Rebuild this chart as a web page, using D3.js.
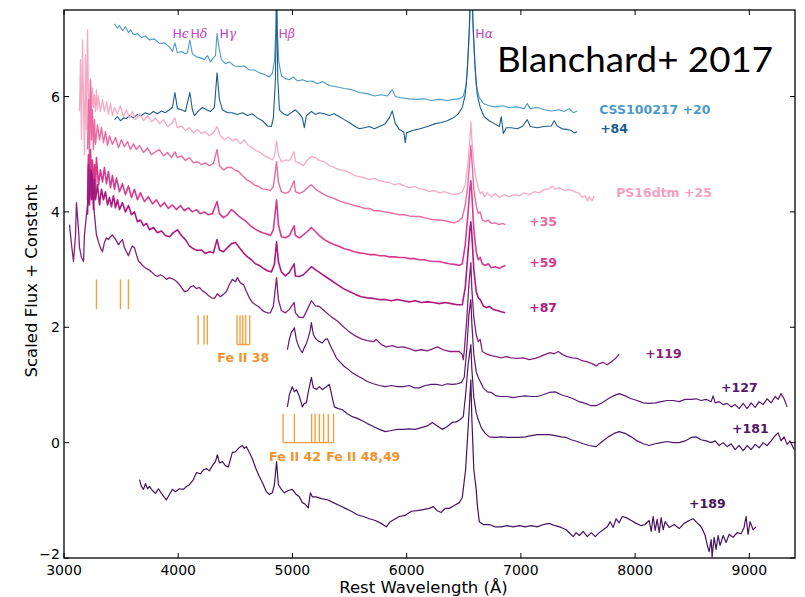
<!DOCTYPE html>
<html>
<head>
<meta charset="utf-8">
<script src="https://cdn.jsdelivr.net/npm/d3@7"></script>
<style>
  html, body { margin: 0; padding: 0; background: #fff; }
  svg { display: block; }
</style>
</head>
<body>
<svg id="chart" width="805" height="597"></svg>
<script>
// ---- spectra: [rest wavelength (Å), scaled flux + constant] ----
const css100217_p20 = [[3442,7.26],[3468,7.19],[3486,7.23],[3512,7.14],[3538,7.21],[3564,7.11],[3582,7.16],[3608,7.07],[3643,7.09],[3678,7.02],[3713,7.05],[3748,6.98],[3792,7.00],[3836,6.92],[3879,6.93],[3923,6.86],[3949,6.78],[3971,6.93],[3993,6.76],[4028,6.78],[4063,6.74],[4081,6.76],[4102,6.98],[4124,6.74],[4159,6.69],[4194,6.67],[4229,6.64],[4256,6.71],[4282,6.60],[4308,6.67],[4326,6.71],[4340,7.09],[4356,6.86],[4378,6.64],[4413,6.57],[4448,6.60],[4492,6.53],[4536,6.52],[4579,6.53],[4623,6.46],[4667,6.46],[4711,6.41],[4754,6.38],[4798,6.34],[4824,6.40],[4842,6.60],[4855,7.16],[4861,7.9],[4868,7.16],[4881,6.60],[4903,6.36],[4938,6.31],[4973,6.29],[5008,6.34],[5043,6.27],[5087,6.29],[5131,6.26],[5174,6.27],[5218,6.22],[5262,6.26],[5323,6.19],[5384,6.17],[5454,6.14],[5516,6.12],[5586,6.07],[5656,6.05],[5717,6.01],[5778,6.03],[5831,6.01],[5874,6.12],[5901,6.00],[5953,5.98],[6023,5.96],[6093,5.95],[6154,5.96],[6216,5.93],[6286,5.95],[6356,5.93],[6417,5.95],[6461,5.96],[6496,6.01],[6522,6.20],[6539,6.73],[6553,7.33],[6566,8.5],[6579,7.33],[6592,6.73],[6609,6.20],[6636,5.98],[6671,5.88],[6723,5.84],[6776,5.82],[6837,5.84],[6898,5.81],[6968,5.82],[7029,5.79],[7056,5.88],[7082,5.79],[7143,5.81],[7204,5.77],[7266,5.75],[7336,5.77],[7379,5.74],[7423,5.79],[7458,5.72],[7493,5.75]];

const css100217_p84 = [[3442,5.60],[3468,5.65],[3494,5.58],[3521,5.63],[3547,5.62],[3573,5.67],[3608,5.63],[3643,5.69],[3678,5.67],[3713,5.72],[3748,5.69],[3783,5.74],[3818,5.70],[3853,5.75],[3888,5.72],[3923,5.77],[3949,5.81],[3971,6.07],[3993,5.79],[4028,5.77],[4063,5.74],[4102,6.07],[4124,5.77],[4142,5.67],[4177,5.75],[4212,5.81],[4247,5.77],[4282,5.74],[4317,5.81],[4340,6.41],[4361,5.95],[4387,5.77],[4431,5.72],[4474,5.72],[4518,5.69],[4562,5.72],[4606,5.67],[4649,5.70],[4693,5.63],[4737,5.58],[4781,5.49],[4816,5.48],[4833,5.63],[4851,6.29],[4861,7.7],[4872,6.29],[4886,5.77],[4921,5.70],[4956,5.67],[4991,5.72],[5026,5.77],[5061,5.70],[5087,5.63],[5104,5.46],[5122,5.67],[5166,5.74],[5201,5.69],[5236,5.72],[5279,5.70],[5323,5.67],[5367,5.70],[5411,5.65],[5454,5.60],[5498,5.55],[5542,5.49],[5586,5.44],[5629,5.46],[5673,5.48],[5717,5.44],[5761,5.48],[5813,5.53],[5848,5.63],[5874,5.75],[5901,5.53],[5936,5.43],[5975,5.38],[5988,5.20],[5999,5.37],[6049,5.41],[6093,5.43],[6146,5.46],[6198,5.49],[6251,5.53],[6303,5.55],[6356,5.58],[6408,5.63],[6452,5.70],[6487,5.81],[6513,6.03],[6531,6.46],[6548,7.16],[6566,8.3],[6583,7.16],[6601,6.46],[6618,6.03],[6644,5.81],[6679,5.65],[6723,5.58],[6767,5.53],[6811,5.48],[6828,5.65],[6846,5.36],[6872,5.46],[6916,5.46],[6968,5.44],[7012,5.48],[7056,5.60],[7082,5.48],[7143,5.46],[7204,5.48],[7266,5.49],[7292,5.58],[7318,5.49],[7362,5.44],[7406,5.43],[7441,5.41],[7467,5.37],[7493,5.39]];

const ps16dtm_p25 = [[3136,5.74],[3144,6.64],[3153,5.25],[3162,6.98],[3171,5.95],[3179,4.99],[3188,6.73],[3197,5.43],[3206,7.16],[3214,6.03],[3223,5.60],[3232,6.20],[3241,5.69],[3249,6.15],[3258,5.81],[3267,6.03],[3276,5.74],[3284,6.12],[3293,5.77],[3302,6.01],[3319,5.74],[3337,5.95],[3354,5.74],[3372,5.91],[3389,5.69],[3407,5.88],[3424,5.67],[3442,5.81],[3468,5.70],[3494,5.84],[3521,5.65],[3547,5.77],[3573,5.63],[3599,5.74],[3626,5.60],[3661,5.70],[3696,5.58],[3731,5.67],[3766,5.56],[3801,5.63],[3836,5.53],[3871,5.60],[3906,5.48],[3941,5.53],[3971,5.63],[3993,5.46],[4028,5.49],[4063,5.41],[4098,5.46],[4133,5.37],[4168,5.43],[4203,5.36],[4238,5.39],[4273,5.32],[4308,5.37],[4340,5.48],[4369,5.32],[4404,5.25],[4439,5.30],[4474,5.23],[4509,5.27],[4544,5.18],[4579,5.25],[4614,5.15],[4649,5.11],[4684,5.06],[4719,5.03],[4754,4.97],[4789,4.94],[4824,4.90],[4842,4.96],[4861,5.23],[4877,4.99],[4903,4.87],[4938,4.90],[4973,4.89],[5015,5.04],[5026,4.87],[5061,4.85],[5096,4.80],[5131,4.90],[5166,4.96],[5201,4.94],[5236,4.89],[5279,4.87],[5323,4.80],[5367,4.77],[5411,4.73],[5454,4.72],[5498,4.68],[5542,4.63],[5586,4.61],[5629,4.59],[5673,4.56],[5717,4.58],[5761,4.54],[5804,4.52],[5848,4.51],[5892,4.47],[5936,4.49],[5979,4.45],[6023,4.42],[6067,4.44],[6111,4.40],[6154,4.39],[6198,4.35],[6242,4.37],[6286,4.33],[6329,4.35],[6373,4.32],[6417,4.30],[6461,4.32],[6487,4.35],[6513,4.47],[6536,4.82],[6553,5.25],[6562,5.56],[6571,5.25],[6588,4.82],[6609,4.56],[6627,4.42],[6644,4.32],[6662,4.35],[6679,4.26],[6706,4.33],[6741,4.26],[6776,4.32],[6811,4.25],[6854,4.30],[6898,4.26],[6942,4.30],[6986,4.28],[7029,4.33],[7073,4.30],[7117,4.35],[7161,4.33],[7204,4.39],[7248,4.40],[7274,4.45],[7301,4.39],[7336,4.42],[7379,4.37],[7423,4.39],[7467,4.35],[7511,4.32],[7537,4.25],[7563,4.28],[7581,4.19],[7598,4.26],[7624,4.19],[7642,4.28]];

const ps16dtm_p35 = [[3206,5.08],[3214,5.95],[3223,4.90],[3232,6.29],[3241,5.25],[3249,5.77],[3258,5.08],[3267,5.60],[3276,5.17],[3293,5.51],[3311,5.25],[3328,5.46],[3346,5.20],[3363,5.39],[3381,5.15],[3398,5.32],[3424,5.17],[3451,5.29],[3477,5.11],[3503,5.25],[3529,5.13],[3556,5.22],[3582,5.08],[3608,5.18],[3634,5.08],[3661,5.15],[3696,5.03],[3731,5.11],[3766,4.99],[3801,5.04],[3836,5.08],[3871,4.97],[3906,5.03],[3941,4.94],[3971,5.04],[3993,4.94],[4028,4.97],[4063,4.89],[4098,4.94],[4133,4.85],[4168,4.87],[4203,4.82],[4238,4.85],[4273,4.80],[4308,4.84],[4340,5.08],[4361,4.80],[4396,4.73],[4431,4.77],[4466,4.77],[4492,4.73],[4527,4.70],[4562,4.63],[4597,4.56],[4632,4.52],[4667,4.47],[4702,4.44],[4737,4.40],[4772,4.39],[4807,4.37],[4833,4.44],[4861,4.87],[4877,4.52],[4903,4.35],[4938,4.32],[4973,4.35],[5015,4.54],[5026,4.35],[5061,4.32],[5096,4.35],[5131,4.42],[5166,4.47],[5201,4.40],[5236,4.35],[5279,4.30],[5323,4.26],[5367,4.23],[5411,4.19],[5454,4.16],[5498,4.14],[5542,4.11],[5586,4.09],[5629,4.06],[5673,4.06],[5717,4.02],[5761,4.02],[5804,4.00],[5848,3.99],[5892,3.97],[5936,3.95],[5979,3.95],[6023,3.93],[6067,3.92],[6111,3.92],[6154,3.90],[6198,3.88],[6242,3.86],[6286,3.86],[6329,3.85],[6373,3.83],[6417,3.81],[6461,3.85],[6487,3.90],[6513,4.12],[6536,4.47],[6553,4.90],[6562,5.15],[6571,4.90],[6588,4.39],[6609,4.11],[6627,3.97],[6644,4.00],[6662,3.86],[6688,3.83],[6714,3.86],[6741,3.80],[6776,3.81],[6811,3.78],[6837,3.80],[6863,3.78]];

const ps16dtm_p59 = [[3206,4.21],[3214,4.99],[3223,4.39],[3232,5.08],[3241,4.47],[3249,4.90],[3258,4.30],[3267,4.82],[3276,4.39],[3284,4.94],[3302,4.47],[3319,4.73],[3337,4.52],[3354,4.77],[3372,4.49],[3389,4.70],[3407,4.42],[3424,4.63],[3442,4.39],[3459,4.59],[3486,4.35],[3512,4.49],[3538,4.30],[3564,4.45],[3591,4.25],[3617,4.39],[3643,4.21],[3669,4.33],[3704,4.18],[3739,4.26],[3774,4.14],[3809,4.21],[3844,4.09],[3879,4.16],[3914,4.06],[3949,4.12],[3984,4.04],[4019,4.11],[4054,4.02],[4089,4.07],[4124,4.00],[4159,4.04],[4194,3.97],[4229,4.00],[4264,3.95],[4299,3.97],[4340,4.18],[4361,3.97],[4396,3.90],[4431,3.95],[4466,4.04],[4492,4.00],[4527,3.93],[4562,3.88],[4597,3.83],[4632,3.76],[4667,3.71],[4702,3.67],[4737,3.64],[4772,3.62],[4807,3.59],[4833,3.69],[4861,4.21],[4877,3.78],[4903,3.57],[4938,3.55],[4973,3.59],[5015,3.76],[5026,3.59],[5061,3.55],[5096,3.60],[5131,3.66],[5166,3.73],[5201,3.66],[5236,3.59],[5279,3.52],[5323,3.47],[5367,3.43],[5411,3.40],[5454,3.36],[5498,3.34],[5542,3.31],[5586,3.29],[5629,3.28],[5673,3.26],[5717,3.26],[5761,3.24],[5804,3.24],[5848,3.22],[5892,3.22],[5936,3.21],[5979,3.21],[6023,3.19],[6067,3.19],[6111,3.17],[6154,3.17],[6198,3.15],[6242,3.14],[6286,3.14],[6329,3.12],[6373,3.10],[6417,3.09],[6461,3.07],[6487,3.10],[6513,3.43],[6536,3.95],[6553,4.39],[6562,4.54],[6571,4.30],[6588,3.69],[6609,3.31],[6627,3.17],[6644,3.21],[6662,3.10],[6688,3.07],[6714,3.10],[6741,3.03],[6776,3.05],[6811,3.02],[6837,3.05],[6863,3.07]];

const ps16dtm_p87 = [[3206,3.95],[3214,4.82],[3223,4.12],[3232,4.73],[3241,4.21],[3249,4.65],[3258,4.04],[3267,4.56],[3276,4.21],[3293,4.47],[3311,4.12],[3328,4.39],[3346,4.21],[3363,4.35],[3381,4.12],[3398,4.25],[3416,4.09],[3433,4.28],[3451,4.07],[3468,4.21],[3486,4.04],[3512,4.16],[3538,4.00],[3564,4.11],[3591,3.95],[3617,4.00],[3643,3.83],[3669,3.86],[3696,3.76],[3722,3.80],[3748,3.69],[3783,3.73],[3818,3.64],[3853,3.67],[3888,3.59],[3923,3.57],[3958,3.64],[3993,3.69],[4028,3.59],[4063,3.52],[4098,3.41],[4133,3.36],[4168,3.33],[4203,3.34],[4238,3.28],[4273,3.31],[4308,3.29],[4340,3.52],[4361,3.34],[4396,3.31],[4431,3.38],[4466,3.45],[4501,3.47],[4536,3.38],[4571,3.29],[4606,3.22],[4641,3.17],[4676,3.10],[4711,3.07],[4746,3.02],[4781,2.98],[4816,2.96],[4842,3.09],[4861,3.48],[4877,3.14],[4903,2.96],[4938,2.89],[4973,2.95],[5015,3.10],[5026,2.89],[5061,2.88],[5096,2.91],[5131,2.98],[5166,3.05],[5201,3.00],[5236,2.95],[5288,2.88],[5341,2.81],[5393,2.74],[5446,2.67],[5498,2.62],[5551,2.57],[5603,2.53],[5656,2.51],[5708,2.50],[5761,2.48],[5813,2.48],[5866,2.46],[5918,2.48],[5971,2.46],[6023,2.44],[6076,2.46],[6128,2.43],[6181,2.44],[6233,2.43],[6286,2.41],[6338,2.43],[6391,2.41],[6443,2.39],[6487,2.39],[6513,2.69],[6536,3.26],[6553,3.69],[6562,3.83],[6571,3.60],[6588,3.00],[6609,2.62],[6627,2.51],[6644,2.48],[6671,2.37],[6697,2.34],[6723,2.36],[6758,2.31],[6793,2.29],[6828,2.27],[6863,2.25]];

const ps16dtm_p119 = [[3048,3.78],[3066,3.43],[3083,3.14],[3101,3.60],[3109,4.16],[3127,3.69],[3136,3.38],[3153,3.21],[3171,3.14],[3179,3.60],[3197,3.95],[3214,4.25],[3232,4.47],[3241,4.70],[3249,4.39],[3267,3.95],[3284,3.60],[3302,3.48],[3319,3.38],[3337,3.31],[3354,3.47],[3372,3.55],[3389,3.52],[3407,3.57],[3424,3.60],[3442,3.55],[3459,3.50],[3477,3.43],[3494,3.48],[3512,3.52],[3529,3.38],[3547,3.31],[3564,3.24],[3582,3.34],[3599,3.41],[3617,3.38],[3634,3.26],[3652,3.15],[3669,3.12],[3687,3.07],[3713,3.03],[3739,3.00],[3766,2.96],[3792,2.91],[3818,2.88],[3844,2.91],[3871,2.88],[3897,2.83],[3923,2.86],[3949,2.84],[3976,2.81],[4002,2.76],[4028,2.69],[4054,2.62],[4081,2.63],[4107,2.70],[4133,2.72],[4159,2.67],[4186,2.69],[4212,2.63],[4238,2.60],[4264,2.55],[4291,2.51],[4317,2.50],[4343,2.58],[4369,2.53],[4396,2.57],[4422,2.62],[4448,2.74],[4474,2.83],[4501,2.79],[4518,2.86],[4544,2.77],[4571,2.74],[4597,2.62],[4623,2.51],[4649,2.43],[4676,2.39],[4702,2.36],[4728,2.31],[4754,2.27],[4781,2.25],[4807,2.25],[4833,2.37],[4861,2.86],[4877,2.48],[4903,2.29],[4938,2.25],[4973,2.31],[5015,2.43],[5026,2.25],[5061,2.17],[5096,2.17],[5131,2.31],[5166,2.46],[5201,2.37],[5236,2.36],[5288,2.27],[5341,2.18],[5393,2.11],[5446,2.01],[5498,1.92],[5551,1.85],[5603,1.80],[5656,1.77],[5708,1.75],[5734,1.79],[5778,1.70],[5822,1.66],[5874,1.68],[5918,1.65],[5971,1.66],[6023,1.63],[6076,1.59],[6128,1.61],[6181,1.59],[6233,1.63],[6268,1.66],[6321,1.61],[6373,1.58],[6426,1.58],[6461,1.58],[6487,1.53],[6496,1.44],[6504,1.58],[6526,2.13],[6545,2.74],[6562,3.12],[6571,2.65],[6588,2.17],[6609,1.87],[6627,1.75],[6644,1.79],[6662,1.58],[6697,1.54],[6741,1.51],[6784,1.49],[6828,1.47],[6872,1.49],[6916,1.47],[6968,1.46],[7021,1.47],[7073,1.44],[7126,1.46],[7169,1.49],[7213,1.53],[7257,1.56],[7292,1.54],[7327,1.58],[7362,1.53],[7406,1.49],[7449,1.47],[7493,1.46],[7537,1.42],[7581,1.40],[7624,1.37],[7659,1.33],[7686,1.37],[7721,1.39],[7756,1.35],[7791,1.40],[7817,1.44],[7843,1.49],[7861,1.53]];

const ps16dtm_p127 = [[4956,1.61],[4973,1.79],[4991,1.91],[5008,1.96],[5017,1.99],[5034,1.79],[5052,1.68],[5069,1.61],[5087,1.56],[5104,1.65],[5122,1.72],[5139,1.82],[5157,1.96],[5166,2.08],[5183,1.87],[5209,1.79],[5236,1.75],[5262,1.73],[5288,1.79],[5306,1.80],[5332,1.68],[5358,1.58],[5384,1.47],[5419,1.39],[5454,1.32],[5489,1.27],[5524,1.21],[5568,1.16],[5612,1.11],[5656,1.06],[5708,1.02],[5761,0.99],[5813,0.97],[5866,0.99],[5918,0.97],[5971,0.97],[6023,0.99],[6067,0.95],[6111,0.95],[6163,0.99],[6216,1.01],[6259,1.01],[6312,0.99],[6356,1.02],[6399,1.01],[6443,1.02],[6478,1.04],[6504,1.13],[6526,1.61],[6545,2.22],[6562,2.48],[6571,2.05],[6588,1.53],[6609,1.23],[6627,1.13],[6644,1.06],[6671,0.95],[6706,0.88],[6741,0.87],[6784,0.81],[6828,0.80],[6881,0.80],[6933,0.78],[6986,0.80],[7038,0.81],[7091,0.80],[7143,0.80],[7196,0.83],[7248,0.87],[7301,0.88],[7353,0.83],[7406,0.80],[7458,0.76],[7511,0.71],[7563,0.68],[7616,0.64],[7659,0.64],[7712,0.69],[7764,0.76],[7808,0.81],[7861,0.85],[7913,0.81],[7966,0.76],[8018,0.73],[8071,0.69],[8123,0.68],[8176,0.69],[8228,0.71],[8281,0.73],[8333,0.73],[8386,0.71],[8438,0.75],[8491,0.75],[8534,0.76],[8578,0.73],[8622,0.75],[8666,0.71],[8683,0.81],[8701,0.69],[8736,0.71],[8771,0.66],[8806,0.68],[8841,0.62],[8876,0.66],[8911,0.59],[8946,0.68],[8981,0.59],[9016,0.69],[9051,0.61],[9086,0.71],[9121,0.66],[9156,0.76],[9191,0.69],[9226,0.80],[9252,0.75],[9278,0.85],[9304,0.76],[9331,0.62]];

const ps16dtm_p181 = [[4956,0.62],[4973,0.83],[4999,0.97],[5017,0.88],[5034,0.92],[5061,0.80],[5087,0.62],[5104,0.68],[5122,0.69],[5139,0.88],[5166,1.13],[5183,0.95],[5209,0.92],[5236,0.97],[5262,0.92],[5297,0.97],[5323,1.01],[5349,0.78],[5367,0.62],[5402,0.59],[5437,0.57],[5481,0.50],[5524,0.45],[5568,0.42],[5612,0.38],[5656,0.33],[5708,0.28],[5761,0.23],[5813,0.19],[5866,0.21],[5918,0.23],[5971,0.23],[6023,0.24],[6076,0.23],[6128,0.26],[6181,0.29],[6224,0.35],[6268,0.29],[6312,0.23],[6356,0.28],[6399,0.35],[6434,0.36],[6469,0.40],[6496,0.45],[6516,0.83],[6538,1.35],[6562,1.70],[6571,1.27],[6588,0.78],[6609,0.52],[6627,0.40],[6653,0.26],[6688,0.16],[6723,0.10],[6776,0.09],[6828,0.10],[6881,0.09],[6933,0.09],[6986,0.09],[7038,0.10],[7091,0.12],[7143,0.14],[7196,0.14],[7248,0.14],[7301,0.12],[7353,0.10],[7397,0.09],[7441,0.05],[7493,0.02],[7546,-0.02],[7598,-0.05],[7659,-0.07],[7712,0.02],[7764,0.10],[7817,0.16],[7861,0.19],[7913,0.16],[7966,0.10],[8018,0.03],[8071,-0.02],[8123,-0.05],[8176,-0.02],[8228,0.00],[8281,0.02],[8333,0.00],[8386,0.00],[8438,0.03],[8491,0.09],[8534,0.10],[8578,0.05],[8622,0.03],[8666,0.00],[8701,0.03],[8736,-0.05],[8771,0.00],[8806,-0.07],[8841,-0.02],[8876,-0.12],[8911,-0.05],[8946,-0.14],[8981,-0.05],[9016,-0.12],[9051,-0.03],[9086,-0.09],[9121,0.00],[9156,-0.05],[9191,0.03],[9226,0.12],[9252,0.17],[9278,0.03],[9304,0.10],[9331,-0.03],[9357,0.03],[9392,-0.12]];

const ps16dtm_p189 = [[3661,-0.64],[3678,-0.76],[3696,-0.81],[3713,-0.71],[3731,-0.80],[3748,-0.76],[3774,-0.83],[3801,-0.88],[3827,-0.80],[3853,-0.88],[3879,-0.95],[3897,-0.99],[3923,-0.90],[3949,-0.81],[3976,-0.85],[4011,-0.80],[4046,-0.81],[4072,-0.76],[4098,-0.73],[4133,-0.64],[4159,-0.52],[4194,-0.54],[4221,-0.47],[4247,-0.45],[4273,-0.49],[4299,-0.40],[4326,-0.33],[4343,-0.21],[4361,-0.35],[4387,-0.33],[4413,-0.40],[4439,-0.42],[4457,-0.29],[4474,-0.17],[4501,-0.16],[4527,-0.10],[4544,-0.07],[4562,-0.05],[4579,-0.10],[4597,-0.07],[4623,-0.17],[4649,-0.28],[4684,-0.47],[4711,-0.59],[4737,-0.69],[4772,-0.85],[4798,-0.90],[4824,-0.87],[4842,-0.73],[4861,-0.33],[4877,-0.73],[4903,-0.81],[4929,-0.87],[4964,-0.83],[4999,-0.81],[5034,-0.90],[5061,-0.94],[5087,-1.04],[5113,-1.07],[5139,-1.13],[5157,-0.87],[5174,-0.94],[5209,-0.94],[5253,-0.97],[5306,-0.99],[5358,-1.04],[5411,-1.09],[5463,-1.14],[5516,-1.19],[5568,-1.25],[5621,-1.28],[5673,-1.32],[5726,-1.35],[5778,-1.40],[5822,-1.46],[5857,-1.37],[5901,-1.32],[5936,-1.28],[5988,-1.26],[6041,-1.19],[6093,-1.18],[6146,-1.16],[6198,-1.14],[6233,-1.11],[6268,-1.18],[6303,-1.21],[6338,-1.14],[6373,-1.14],[6417,-1.09],[6461,-1.04],[6487,-0.95],[6516,-0.47],[6540,0.31],[6562,1.09],[6571,0.40],[6588,-0.47],[6609,-0.81],[6618,-1.07],[6636,-1.37],[6671,-1.42],[6723,-1.42],[6776,-1.46],[6828,-1.46],[6881,-1.44],[6933,-1.46],[6986,-1.44],[7038,-1.46],[7091,-1.44],[7143,-1.46],[7196,-1.42],[7248,-1.40],[7301,-1.44],[7353,-1.47],[7397,-1.51],[7432,-1.58],[7458,-1.63],[7484,-1.56],[7511,-1.61],[7546,-1.54],[7581,-1.63],[7616,-1.56],[7651,-1.63],[7686,-1.56],[7721,-1.51],[7756,-1.46],[7782,-1.37],[7808,-1.47],[7834,-1.32],[7861,-1.39],[7887,-1.28],[7922,-1.30],[7966,-1.35],[8009,-1.40],[8053,-1.44],[8088,-1.42],[8123,-1.35],[8141,-1.54],[8158,-1.28],[8176,-1.52],[8193,-1.33],[8211,-1.56],[8228,-1.30],[8246,-1.51],[8263,-1.37],[8298,-1.47],[8342,-1.42],[8386,-1.49],[8429,-1.40],[8473,-1.35],[8508,-1.32],[8543,-1.39],[8569,-1.44],[8587,-1.49],[8613,-1.61],[8631,-1.77],[8648,-1.89],[8666,-1.68],[8674,-1.98],[8692,-1.64],[8709,-1.85],[8727,-1.61],[8744,-1.78],[8771,-1.61],[8797,-1.73],[8823,-1.59],[8858,-1.64],[8893,-1.56],[8928,-1.58],[8954,-1.47],[8972,-1.28],[8989,-1.59],[9007,-1.37],[9033,-1.51],[9059,-1.46]];

// series labels and the spot (wavelength, flux) where each label sits
const seriesNames  = ["CSS100217 +20", "+84", "PS16dtm +25", "+35", "+59", "+87", "+119", "+127", "+181", "+189"];
const seriesColors = ["#4b9ac8", "#1c5d8d", "#f5a9c3", "#ea6aa1", "#d8398e", "#b0187f", "#85207e", "#5a1771", "#4e1569", "#47125f"];
const labelColors  = ["#4b9ac8", "#1c5d8d", "#f4a0bf", "#ea6aa1", "#d8398e", "#b0187f", "#85207e", "#5a1771", "#4e1569", "#47125f"];
const lineWidths   = [1.1, 1.1, 1.3, 1.4, 1.6, 1.6, 1.3, 1.2, 1.2, 1.2];
const labelWave    = [7686, 7694, 7834, 7073, 7073, 7073, 8088, 8753, 8849, 8473];
const labelFlux    = [5.69, 5.37, 4.25, 3.76, 3.05, 2.27, 1.46, 0.88, 0.17, -1.14];

// Balmer line names and where they are written
const balmerGreek = ["\u03F5", "\u03B4", "\u03B3", "\u03B2", "\u03B1"];
const balmerWave  = [3949, 4107, 4361, 4877, 6601];
const balmerFlux  = [7.02, 7.02, 7.02, 7.02, 7.02];

// Fe II line markers (Å) and the flux span of each tick group
const feGroupUV   = [3284, 3494, 3564];
const feGroup38a  = [4174, 4226, 4255];
const feGroup38b  = [4515, 4541, 4565, 4590, 4626];
const feGroup4249 = [4918, 5017, 5168, 5198, 5236, 5273, 5314, 5360];

// axis ticks
const xTicks = [3000, 4000, 5000, 6000, 7000, 8000, 9000];
const yTicks = [-2, 0, 2, 4, 6];

// ---- layout ----
const W = 805, H = 597;
const margin = {top: 10, right: 10, bottom: 39, left: 64};
const iw = W - margin.left - margin.right;
const ih = H - margin.top - margin.bottom;

const x = d3.scaleLinear().domain([3000, 9400]).range([0, iw]);
const y = d3.scaleLinear().domain([-2, 7.5]).range([ih, 0]);

const svg = d3.select("#chart");
const g = svg.append("g").attr("transform", `translate(${margin.left},${margin.top})`);

g.append("defs").append("clipPath").attr("id", "plotclip")
  .append("rect").attr("x", 0).attr("y", 0).attr("width", iw).attr("height", ih);

const plot = g.append("g").attr("clip-path", "url(#plotclip)");

const spectra = [css100217_p20, css100217_p84, ps16dtm_p25, ps16dtm_p35, ps16dtm_p59,
                 ps16dtm_p87, ps16dtm_p119, ps16dtm_p127, ps16dtm_p181, ps16dtm_p189];

const line = d3.line().x(d => x(d[0])).y(d => y(d[1]));

plot.selectAll("path.spec").data(spectra).join("path")
  .attr("class", "spec")
  .attr("d", line)
  .attr("fill", "none")
  .attr("stroke", (d, i) => seriesColors[i])
  .attr("stroke-width", (d, i) => lineWidths[i])
  .attr("stroke-linejoin", "round");

// Fe II ticks
const feColor = "#f5a03e";
function feTicks(waves, lo, hi, joined) {
  const grp = plot.append("g").attr("stroke", feColor).attr("stroke-width", 1.4).attr("fill", "none");
  grp.selectAll("line").data(waves).join("line")
    .attr("x1", d => x(d)).attr("x2", d => x(d))
    .attr("y1", y(hi)).attr("y2", y(lo));
  if (joined) {
    grp.append("line")
      .attr("x1", x(d3.min(waves))).attr("x2", x(d3.max(waves)))
      .attr("y1", y(lo)).attr("y2", y(lo));
  }
}
feTicks(feGroupUV, 2.31, 2.83, false);
feTicks(feGroup38a, 1.70, 2.21, false);
feTicks(feGroup38b, 1.70, 2.21, true);
feTicks(feGroup4249, 0.0, 0.50, true);

const feText = [
  {t: "Fe II 38", w: 4570, f: 1.40},
  {t: "Fe II 42", w: 5023, f: -0.31},
  {t: "Fe II 48,49", w: 5620, f: -0.31}
];
g.selectAll("text.fe").data(feText).join("text")
  .attr("class", "fe")
  .attr("x", d => x(d.w)).attr("y", d => y(d.f))
  .attr("text-anchor", "middle")
  .attr("font-family", "DejaVu Sans, sans-serif")
  .attr("font-weight", "bold").attr("font-size", 12.5)
  .attr("fill", "#f3922c")
  .text(d => d.t);

// Balmer labels
const bl = g.selectAll("text.balmer").data(balmerGreek).join("text")
  .attr("class", "balmer")
  .attr("x", (d, i) => x(balmerWave[i])).attr("y", (d, i) => y(balmerFlux[i]))
  .attr("fill", "#c23fc6").attr("font-size", 12.5);
bl.append("tspan").attr("font-family", "DejaVu Sans, sans-serif").text("H");
bl.append("tspan").attr("font-family", "DejaVu Serif, serif").attr("font-style", "italic").text(d => d);

// series labels
g.selectAll("text.series").data(seriesNames).join("text")
  .attr("class", "series")
  .attr("x", (d, i) => x(labelWave[i])).attr("y", (d, i) => y(labelFlux[i]))
  .attr("font-family", "DejaVu Sans, sans-serif")
  .attr("font-weight", "bold").attr("font-size", 12.5)
  .attr("fill", (d, i) => labelColors[i])
  .text(d => d);

// frame
g.append("rect").attr("x", 0).attr("y", 0).attr("width", iw).attr("height", ih)
  .attr("fill", "none").attr("stroke", "#000").attr("stroke-width", 1.3);

// inward ticks on all four sides
const tl = 5;
const tickG = g.append("g").attr("stroke", "#000").attr("stroke-width", 1);
xTicks.forEach(v => {
  tickG.append("line").attr("x1", x(v)).attr("x2", x(v)).attr("y1", ih).attr("y2", ih - tl);
  tickG.append("line").attr("x1", x(v)).attr("x2", x(v)).attr("y1", 0).attr("y2", tl);
});
yTicks.forEach(v => {
  tickG.append("line").attr("x1", 0).attr("x2", tl).attr("y1", y(v)).attr("y2", y(v));
  tickG.append("line").attr("x1", iw).attr("x2", iw - tl).attr("y1", y(v)).attr("y2", y(v));
});

// tick labels
const fmt = d3.format("d");
g.selectAll("text.xt").data(xTicks).join("text")
  .attr("class", "xt")
  .attr("x", d => x(d)).attr("y", ih + 17)
  .attr("text-anchor", "middle")
  .attr("font-family", "DejaVu Sans, sans-serif").attr("font-size", 14)
  .text(d => fmt(d));
g.selectAll("text.yt").data(yTicks).join("text")
  .attr("class", "yt")
  .attr("x", -4).attr("y", d => y(d)).attr("dy", d => d === -2 ? "0.05em" : "0.36em")
  .attr("text-anchor", "end")
  .attr("font-family", "DejaVu Sans, sans-serif").attr("font-size", 14)
  .text(d => fmt(d));

// axis titles
svg.append("text")
  .attr("x", margin.left + iw / 2 - 6).attr("y", 593)
  .attr("text-anchor", "middle")
  .attr("font-family", "DejaVu Sans, sans-serif").attr("font-size", 16.5)
  .text("Rest Wavelength (\u00C5)");
svg.append("text")
  .attr("transform", "translate(37,281) rotate(-90)")
  .attr("text-anchor", "middle")
  .attr("font-family", "DejaVu Sans, sans-serif").attr("font-size", 16.5)
  .text("Scaled Flux + Constant");

// citation
svg.append("text")
  .attr("x", 497).attr("y", 72)
  .attr("font-family", "Lato, 'Open Sans', sans-serif").attr("font-size", 35)
  .attr("textLength", 276).attr("lengthAdjust", "spacingAndGlyphs")
  .attr("fill", "#000")
  .text("Blanchard+ 2017");
</script>
</body>
</html>
